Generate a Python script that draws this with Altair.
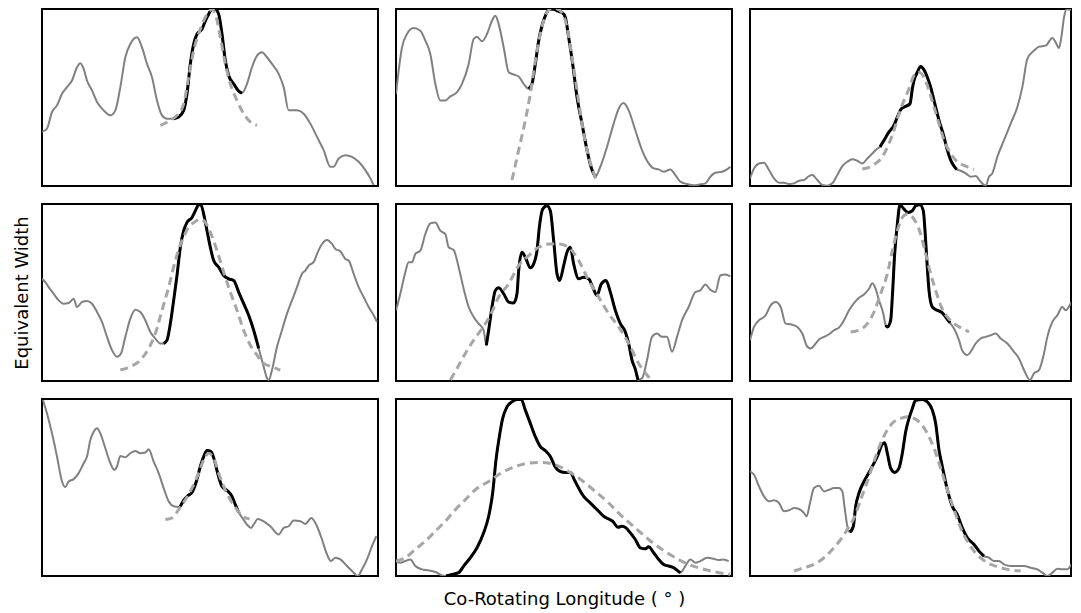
import altair as alt
import pandas as pd

# ---------------- data (longitude units 0..100.8, equivalent width units 0..106.7) -------------
# Each panel: LEFT gray part, PEAK (black) part, RIGHT gray part, FIT (dashed)
P1_LEFT = [(0, 32.6), (1.5, 34.6), (3, 44.6), (4.5, 48.6), (6, 55.6), (7.5, 59.6), (9, 63.6), (10.5, 71.6),
           (11.5, 74), (12.5, 70.6), (13.5, 63.6), (15, 57.6), (16.5, 50.6), (18.5, 45.6), (20.5, 42.6),
           (22, 45.6), (23.5, 59.6), (25, 77.6), (26.5, 85.6), (28.5, 89.6), (30, 83.6), (31.5, 73.6),
           (33, 65.6), (34.5, 51.6), (36, 42.6), (37.5, 40.6)]
P1_PEAK = [(39.5, 40.6), (41, 41.6), (42.5, 45.6), (43.5, 55.6), (44.5, 73.6), (45.5, 85.6), (46.5, 91.6),
           (48, 94.6), (49, 99.6), (50, 103.6), (51, 106.6), (52, 106.6), (53, 103.6), (54, 91.6), (55, 75.6),
           (56, 66.6), (57.5, 61.6), (59, 57.2), (60, 56)]
P1_RIGHT = [(61.5, 61.6), (63, 71.6), (64.5, 78.6), (66, 80.6), (67.5, 77.6), (69, 73.6), (71, 67.6),
            (72.5, 59.6), (74, 45.6), (76.5, 45.6), (78.5, 43.6), (80.5, 37.6), (82.5, 29.6), (84.5, 21.6),
            (86.5, 11.6), (87.5, 11.6), (89, 16.6), (91, 18.6), (93, 17.6), (95, 14.6), (97, 9.6),
            (98.5, 4.6), (99.5, 0.6)]
P1_FIT = [(35.5, 36.6), (38.5, 39.6), (40.5, 42.6), (42.5, 49.6), (44, 65.6), (45.5, 81.6), (47.5, 94.6),
          (49.5, 103.6), (51, 106.6), (52.3, 101.6), (53.5, 89.6), (55, 73.6), (56.5, 61.6), (58.5, 51.6),
          (60.5, 43.6), (62.5, 38.6), (64.5, 36.6)]

P2_LEFT = [(0, 55.6), (0.8, 69.6), (1.8, 83.6), (3.3, 91.6), (5.3, 95.2), (7.3, 93.6), (8.8, 87.6),
           (10.3, 79.6), (11.8, 61.6), (13.3, 51.6), (14.8, 51.6), (16.3, 54), (18.3, 56.6), (19.8, 61.6),
           (21.8, 73.6), (23.3, 88.6), (24.3, 90), (25.8, 87.2), (27.3, 91.6), (28.8, 99.6), (29.8, 102.6),
           (30.8, 97.6), (32.3, 83.6), (33.8, 68.6), (35.3, 67.2), (36.8, 66), (38.3, 61.6)]
P2_PEAK = [(39.8, 58.6), (40.8, 61.6), (41.8, 73.6), (42.8, 87.6), (43.8, 96.6), (45, 103.6), (46, 106.6),
           (47.3, 106.6), (48.3, 105.6), (49.8, 104.6), (50.8, 101.6), (51.8, 89.6), (53, 73.6), (54.3, 53.6),
           (55.8, 37.6), (57.3, 21.6), (58.8, 9.6), (59.8, 5.6)]
P2_RIGHT = [(61.3, 11.6), (63.3, 23.6), (65.3, 37.6), (66.8, 46.6), (68.3, 50), (69.8, 45.6), (71.8, 33.6),
            (73.8, 21.6), (75.8, 13.6), (77.3, 10.6), (78.8, 10), (80.3, 8.6), (82.3, 10), (83.8, 6.6),
            (85.3, 2.6), (87.3, 1.2), (89.3, 0.4), (91.3, 1), (92.8, 1.6), (94.3, 5.6), (95.8, 8),
            (97.8, 8.6), (99.3, 10), (100.3, 11.6)]
P2_FIT = [(34.8, 3.6), (36.8, 21.6), (38.8, 39.6), (40.3, 55.6), (41.8, 75.6), (43.3, 91.6), (44.8, 102.6),
          (46.3, 106.6), (47.8, 107), (49.8, 104.6), (51.3, 95.6), (52.8, 77.6), (54.3, 57.6), (55.8, 37.6),
          (57.3, 21.6), (58.8, 10.6), (60.3, 2.6)]

P3_LEFT = [(0, 4.6), (1.2, 10.6), (2.7, 13.6), (4.2, 14), (5.7, 9.6), (7.2, 4.6), (8.7, 2), (10.2, 2),
           (11.7, 1.2), (13.2, 1.6), (14.7, 3.2), (16.2, 3.6), (17.7, 6), (18.7, 6.6), (20.2, 3.6),
           (21.7, 0.6), (23.2, 0.2), (24.7, 1.6), (26.2, 6.6), (27.7, 12), (29.2, 14.6), (30.7, 16.2),
           (32.2, 15.2), (33.7, 13.6), (35.2, 16.6), (36.7, 19.6), (38.2, 22.6)]
P3_PEAK = [(39, 23.6), (40.2, 27.6), (41.7, 32.6), (43.2, 36.6), (44.2, 41.6), (45.4, 46.6), (46.7, 48),
           (48, 49.6), (48.7, 58.6), (49.2, 63.6), (50.2, 68.6), (51.2, 72), (52.2, 70), (53.2, 65.6),
           (54.2, 59.6), (55.2, 51.6), (56.7, 39.6), (58.2, 29.6), (59.2, 21.6), (60.2, 15.6), (61.2, 12),
           (62, 10)]
P3_RIGHT = [(63.2, 9.2), (64.7, 7.6), (66.2, 5.6), (67.7, 6), (69.2, 2.6), (70.7, 0.2), (71.7, 5.6),
            (72.7, 7.6), (74.2, 17.6), (76.2, 27.6), (78.2, 37.6), (80.2, 47.6), (81.7, 59.6), (83.2, 76.6),
            (85.2, 81.6), (86.7, 84), (88.7, 84.6), (90.7, 89.2), (91.7, 86.6), (92.7, 83.2), (93.4, 89.6),
            (94.2, 101.6), (95, 106.6), (97.2, 106), (99.5, 106.6), (100.6, 105.8)]
P3_FIT = [(33.7, 10.2), (35.7, 11.2), (37.7, 13.6), (39.7, 17.6), (41.7, 25.6), (43.2, 33.6), (44.7, 43.6),
          (46.2, 51.6), (47.7, 58.6), (49.2, 66.6), (50.7, 68.6), (52.2, 65.6), (53.7, 57.6), (55.2, 47.6),
          (56.7, 37.6), (58.2, 27.6), (60.2, 19.6), (62.2, 14.6), (64.7, 12), (67.2, 10)]

P4_LEFT = [(0, 61.6), (1, 59.6), (2, 56.6), (3.5, 52.6), (5, 48.6), (6.5, 46.6), (8, 47), (9.5, 49.6),
           (10.5, 44.6), (12, 47.6), (13.5, 48.2), (15, 46.6), (16.5, 41.6), (18, 35.6), (19.5, 26.6),
           (21, 18.6), (22.5, 14.6), (23.7, 16.6), (25, 26.6), (26.5, 37.6), (28, 43), (29.5, 41.6),
           (31, 36.6), (32.5, 29.6), (34, 25.6), (35.5, 22.6)]
P4_PEAK = [(36.5, 22.6), (37.5, 24.6), (38.5, 34.6), (39.5, 48.6), (40.5, 63.6), (41.5, 80.6), (42.5, 90.6),
           (43.5, 95.6), (45, 98.6), (46, 102.6), (47, 106.2), (47.7, 106.2), (48.5, 100.6), (49.5, 90.6),
           (50.5, 80.6), (51.5, 72.6), (53, 68.6), (54.5, 63.6), (56, 61.6), (57.5, 60.6), (59, 53.6),
           (60.5, 46.6), (62, 39.6), (63.5, 30.6), (65, 19.6)]
P4_RIGHT = [(66.5, 8.6), (67.5, 1.6), (68, 0.6), (69, 6.6), (70.5, 20.6), (72, 30.6), (73.5, 40.6),
            (75, 48.6), (76.5, 56.6), (78, 64.6), (79, 66.6), (80, 69.6), (81.5, 71.6), (82.5, 76.6),
            (84, 82.6), (85.5, 85), (87, 82.6), (88, 79.6), (89.5, 78.2), (91, 73.6), (92, 72.6),
            (93.5, 64.6), (95, 56.6), (96.5, 50.6), (98, 44.6), (99.5, 39.6), (100.5, 35.6)]
P4_FIT = [(23.5, 6.6), (26.5, 8.6), (29.5, 12.6), (32, 19.6), (34, 28.6), (36, 42.6), (38, 56.6),
          (40, 72.6), (42, 84.6), (44, 92.6), (46, 96.2), (47.5, 97.6), (49, 95.6), (50.5, 89.6),
          (52.5, 78.6), (54.5, 65.6), (56.5, 53.6), (58.5, 42.6), (60.5, 30.6), (62.5, 21.6), (64.5, 15.6),
          (66.5, 10.6), (69, 8.6), (71.5, 6.6)]

P5_LEFT = [(0, 42.6), (1.3, 52.6), (2.8, 65.6), (3.8, 71.6), (4.8, 71.6), (5.8, 76.6), (7.3, 78.6),
           (8.8, 88.6), (10.3, 95), (11.8, 95.6), (13.3, 90.6), (14.8, 88.6), (15.8, 80.6), (17.3, 79),
           (18.8, 68.6), (20.3, 55.6), (21.8, 44.6), (23.3, 38.6), (24.8, 34.6), (26.3, 30.6)]
P5_PEAK = [(27.1, 21.6), (27.8, 30.6), (28.8, 44.6), (29.8, 54.6), (30.8, 56.2), (32.3, 52.6), (33.8, 47.6),
           (35.3, 47), (36.3, 52.6), (36.8, 66.6), (37.8, 77.6), (38.8, 74.6), (40.3, 68.2), (41.3, 70.6),
           (42.3, 78.6), (43, 92.6), (44, 103.6), (45.3, 105.6), (46.3, 102.6), (47.3, 84.6), (48.3, 64.6),
           (49.1, 60.6), (50.3, 69.6), (51.3, 77.6), (52.3, 80.6), (53.3, 70.6), (54.8, 61.6), (56.3, 62.6),
           (57.8, 61.6), (59, 56.6), (60.3, 51.6), (61.6, 58.6), (63, 60.6), (64.3, 53.6), (65.8, 42.6),
           (67.3, 34.6), (68.8, 29.6), (69.8, 22.6), (70.8, 12.6), (71.8, 7), (72.6, 0.6)]
P5_RIGHT = [(73.8, 1.6), (75.3, 12.6), (76.8, 26.6), (78.3, 28.6), (79.8, 26.6), (81.3, 26.6), (82.8, 17.6),
            (84.3, 26.6), (85.8, 36.6), (87.8, 44.6), (89.8, 53.6), (91.3, 54.6), (92.8, 58.2), (94.3, 55),
            (95.8, 53.6), (97.3, 63.6), (98.8, 64.2), (100.3, 63)]
P5_FIT = [(16.3, 0.6), (18.3, 7.6), (20.8, 16.6), (23.3, 24.6), (25.8, 31.6), (28.3, 39.6), (30.8, 50.6),
          (33.8, 58.6), (36.8, 69.6), (39.8, 75.6), (42.8, 80.6), (45.8, 82.6), (48.8, 82.6), (51.8, 80.6),
          (54.8, 72.6), (57.8, 60.6), (60.8, 50.6), (63.8, 40.6), (66.8, 32.6), (69.8, 22.6), (72.8, 10.6),
          (75.3, 3.6), (76.8, 0)]

P6_LEFT = [(0, 24.6), (1.2, 32.6), (2.7, 36.6), (4.7, 39.6), (6.2, 45.6), (7.7, 47.6), (9.2, 44.6),
           (10.7, 34.6), (12.2, 34.2), (14.2, 32.6), (15.7, 28.6), (17.2, 20.6), (18.2, 19.6), (19.7, 22.6),
           (20.7, 25), (22.2, 26.6), (23.7, 28.2), (25.2, 30.6), (26.7, 32.2), (28.2, 36.6), (29.7, 42.6),
           (31.2, 47), (32.7, 50.2), (34.2, 52.2), (35.7, 55.6), (36.7, 59), (37.7, 55.6), (38.7, 48.6),
           (40, 40.6)]
P6_PEAK = [(40.7, 33.6), (41.2, 32.6), (42.2, 36.6), (42.7, 50.6), (43.4, 76.6), (44.2, 94.6), (45, 106.2),
           (46.2, 103.6), (47.4, 101.6), (48.7, 102.6), (49.7, 105.6), (51, 106.2), (52, 102.6), (52.5, 90.6),
           (53, 74.6), (53.7, 54.6), (54.7, 44.6), (56.2, 42.6), (57.4, 41.6), (58.7, 38.6), (60, 35)]
P6_RIGHT = [(61.2, 31.6), (62.7, 24.6), (63.7, 18.2), (65.2, 15.6), (66.2, 17.6), (67.7, 22.6), (69.2, 25.6),
            (70.7, 26.6), (72.2, 27.6), (73.7, 28.6), (75.2, 25.6), (77.2, 22.6), (79.2, 17.6), (80.7, 13.6),
            (82.2, 6.6), (84, 0.6), (85.2, 4.6), (86.7, 6.6), (88.2, 16.6), (89.2, 26.6), (90.7, 35.6),
            (92.2, 39.6), (93.7, 44.6), (94.7, 42.6), (96.2, 46.6), (97.2, 49.6), (98.2, 45.6), (99.5, 47),
            (100.6, 46)]
P6_FIT = [(30.2, 29.6), (32.7, 30.6), (35.2, 34.6), (37.2, 41.6), (39.2, 52.6), (41.2, 64.6), (42.7, 78.6),
          (44.2, 90.6), (45.7, 98.6), (47.2, 100.6), (49.2, 97.6), (51.2, 88.6), (52.7, 76.6), (54.2, 64.6),
          (55.7, 54.6), (57.2, 45.6), (59.2, 38.6), (61.2, 34.6), (63.7, 31.6), (65.7, 29.6)]

P7_LEFT = [(0.3, 106), (1.5, 98), (3, 86), (4.5, 72), (6, 57), (7, 53.6), (8, 57), (9.5, 58.4), (11, 62),
           (12.5, 68), (13.5, 72), (14.5, 82), (15.5, 87), (16.5, 89), (17.5, 86), (19, 77), (20.5, 68),
           (21.7, 64), (22.5, 66), (23.5, 72.4), (25, 71.6), (26.5, 74), (28, 75.4), (29.5, 74), (31, 74.4),
           (32, 76.4), (33.5, 69), (35, 62), (36.5, 53), (38, 45), (39.5, 42), (41, 41.6)]
P7_PEAK = [(41.5, 42), (42.5, 45.6), (43.7, 48.4), (45, 50.4), (46.3, 57), (47.5, 66), (48.5, 72),
           (49.5, 75.6), (50.7, 75), (51.7, 70), (52.7, 62), (54, 54), (55.5, 51.6), (57, 48), (58, 43),
           (59, 38.4)]
P7_RIGHT = [(60.3, 34.4), (61.5, 31), (62.7, 29), (63.7, 31.6), (64.7, 34.4), (66.5, 33), (68.5, 30),
            (71, 25), (72.5, 29), (74, 30), (75.5, 33.4), (77.5, 33), (79, 31.4), (80.8, 35), (82.5, 30),
            (84, 22), (85.5, 13), (86.7, 9), (88, 11), (89.5, 10), (91.5, 6), (93.5, 2), (94.7, 0), (96, 4),
            (97.5, 10), (99, 18), (100.3, 24)]
P7_FIT = [(37, 34), (39, 35), (41, 40), (43, 46), (45, 53), (47, 62), (48.5, 70), (50, 74), (51.5, 71),
          (53, 62), (54.5, 54), (56.5, 46), (58.5, 40), (60.5, 35.6), (62.3, 34.4)]

P8_LEFT = [(0, 9), (1.3, 8), (2.8, 9), (4.3, 10), (5.8, 6), (7.8, 4), (9.8, 3.4), (11.8, 2.4), (13.8, 0.4)]
P8_PEAK = [(15, 0), (16.8, 1), (18.8, 2), (20.3, 6), (22.3, 11), (24.3, 17), (26.3, 26), (27.8, 36), (29, 50),
           (30, 70), (31, 84), (32, 95), (33.3, 102), (34.8, 105), (36.3, 106.4), (37.6, 106.4), (38.8, 100),
           (40.3, 92), (41.8, 84), (43.3, 78), (44.8, 75.6), (46.3, 72), (47.8, 65.6), (49.3, 63),
           (50.8, 62.4), (52.3, 62.4), (53.6, 57.6), (54.8, 53), (56.3, 48), (57.8, 45), (59.3, 42),
           (60.8, 39), (62.3, 36), (63.8, 34.4), (65, 33), (66.6, 29.4), (67.8, 30), (69, 29), (70.3, 26),
           (71.8, 22), (73.3, 17), (74.8, 16.4), (75.8, 17.6), (77.3, 14), (78.8, 10), (80.3, 7), (81.8, 6),
           (83.3, 5), (84.6, 3), (85.3, 2)]
P8_RIGHT = [(86.8, 6), (88.3, 10), (89.8, 8), (91.3, 9), (93.3, 11), (95.3, 10.4), (96.8, 9.6), (98.3, 10),
            (99.8, 9)]
P8_FIT = [(0, 9), (2.8, 11), (5.8, 16), (8.8, 21), (11.8, 27), (14.8, 33), (17.8, 40), (20.8, 46),
          (23.8, 52), (27.8, 57), (31.8, 62.4), (35.8, 66), (39.8, 68), (43.8, 68.4), (47.8, 67), (51.8, 63),
          (55.8, 57.6), (59.8, 51), (63.8, 44), (67.8, 36), (71.8, 29), (75.8, 22), (79.8, 16), (83.8, 11),
          (87.8, 7), (91.8, 4.4), (95.8, 2.4), (100.3, 1)]

P9_LEFT = [(0, 63), (1.2, 61), (2.7, 54), (4.2, 48), (5.7, 45), (7.2, 45.6), (8.7, 44), (10.2, 39),
           (11.7, 39.6), (13.2, 41), (14.7, 40.4), (16, 38.4), (17, 36), (18, 44), (19.2, 53), (20.7, 54.4),
           (22.2, 51), (23.7, 52), (25.2, 53), (26.7, 53), (27.7, 51), (28.4, 41), (29.2, 30)]
P9_PEAK = [(30, 26.4), (31, 30), (31.7, 42), (32.7, 50), (34.2, 57), (35.7, 62.4), (37.2, 68), (38.4, 73),
           (39.7, 79.6), (40.4, 80.4), (41.2, 74), (42.2, 65), (43.4, 62.4), (44.7, 65), (45.7, 74), (46.7, 87),
           (47.7, 95), (48.7, 101), (49.7, 106), (51.7, 106.4), (53.2, 105), (54.7, 100), (55.7, 92),
           (56.7, 76), (57.7, 66), (59.2, 52), (60.7, 42), (62.2, 37), (63.7, 29), (65.2, 23), (67.2, 19),
           (68.7, 15), (70.2, 12)]
P9_RIGHT = [(71.7, 11), (73.2, 9), (74.7, 9), (76.2, 7), (78.2, 6), (80.2, 6), (82.2, 6), (84.2, 5),
            (86.2, 4), (87.7, 2), (89.2, 0), (90.7, 2), (92.2, 4.4), (93.7, 4), (95.2, 4), (96.7, 8),
            (98.2, 12), (99.5, 13), (100.6, 14)]
P9_FIT = [(13.2, 3), (16.2, 5), (19.2, 7), (22.2, 11), (24.7, 16), (27.2, 22), (29.2, 28), (31.2, 35),
          (33.2, 46), (35.2, 57), (37.2, 69), (39.2, 80), (41.2, 88), (43.2, 93), (45.2, 95), (47.2, 96),
          (49.2, 95), (51.2, 92), (53.2, 86), (55.2, 77), (57.2, 65), (59.2, 52), (61.2, 40), (63.2, 29),
          (65.2, 21), (67.2, 15), (69.2, 11), (71.2, 8), (74.2, 5.6), (77.2, 4), (81.2, 3)]

PANELS = [
    (P1_LEFT, P1_PEAK, P1_RIGHT, P1_FIT), (P2_LEFT, P2_PEAK, P2_RIGHT, P2_FIT), (P3_LEFT, P3_PEAK, P3_RIGHT, P3_FIT),
    (P4_LEFT, P4_PEAK, P4_RIGHT, P4_FIT), (P5_LEFT, P5_PEAK, P5_RIGHT, P5_FIT), (P6_LEFT, P6_PEAK, P6_RIGHT, P6_FIT),
    (P7_LEFT, P7_PEAK, P7_RIGHT, P7_FIT), (P8_LEFT, P8_PEAK, P8_RIGHT, P8_FIT), (P9_LEFT, P9_PEAK, P9_RIGHT, P9_FIT),
]

# the right-hand column is cut by the page edge in the original figure
X_DOMAIN_FULL = [0, 100.8]
X_DOMAIN_CUT = [0, 96.3]
Y_DOMAIN = [0, 106.7]
FONT = "DejaVu Sans"
PANEL_W = 336
PANEL_W_CUT = 321
PANEL_H = 177


def frame(points):
    return pd.DataFrame(points, columns=["lon", "ew"])


def panel(i, left, peak, right, fit):
    if i == 3:
        y_axis = alt.Axis(title="Equivalent Width", labels=False, ticks=False, domain=False, grid=False,
                          titleFont=FONT, titleFontSize=18, titleFontWeight="normal", titleColor="black",
                          titlePadding=11)
    else:
        y_axis = None
    if i == 7:
        x_axis = alt.Axis(title="Co-Rotating Longitude ( ° )", labels=False, ticks=False, domain=False,
                          grid=False, titleFont=FONT, titleFontSize=18, titleFontWeight="normal",
                          titleColor="black", titlePadding=14)
    else:
        x_axis = None

    cut = (i % 3 == 2)
    x = alt.X("lon:Q", scale=alt.Scale(domain=X_DOMAIN_CUT if cut else X_DOMAIN_FULL, nice=False, zero=False),
              axis=x_axis)
    y = alt.Y("ew:Q", scale=alt.Scale(domain=Y_DOMAIN, nice=False, zero=False), axis=y_axis)

    gray = alt.Chart(frame(left + peak + right)).mark_line(
        color="#808080", strokeWidth=2, clip=True, interpolate="monotone"
    ).encode(x=x, y=y)
    black = alt.Chart(frame(peak)).mark_line(
        color="black", strokeWidth=3, clip=True, interpolate="monotone"
    ).encode(x="lon:Q", y="ew:Q")
    dashed = alt.Chart(frame(fit)).mark_line(
        color="#a6a6a6", strokeWidth=3, strokeDash=[8, 5], clip=True, interpolate="monotone"
    ).encode(x="lon:Q", y="ew:Q")
    return alt.layer(gray, black, dashed).properties(width=PANEL_W_CUT if cut else PANEL_W, height=PANEL_H)


charts = [panel(i, *p) for i, p in enumerate(PANELS)]

chart = alt.concat(*charts, columns=3, spacing=16, align="each").properties(
    padding={"left": 4, "top": 0, "right": 0, "bottom": 0}
).configure_view(
    stroke="black", strokeWidth=2
)

chart.save("out.html", embed_options={"renderer": "svg", "actions": False})
